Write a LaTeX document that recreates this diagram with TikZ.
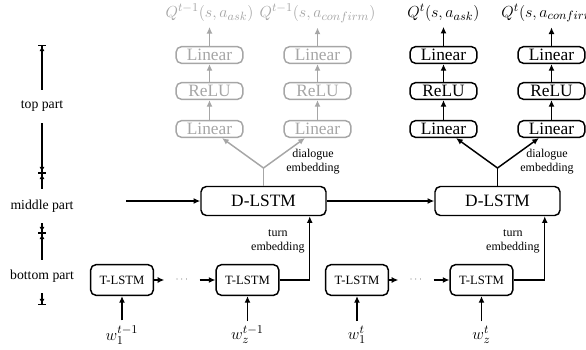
\documentclass[tikz,border=0pt]{standalone}
\usepackage{fontspec}
\setmainfont{Liberation Serif}
\usetikzlibrary{arrows.meta,positioning}

\begin{document}
\begin{tikzpicture}[x=0.75pt,y=-0.75pt,>={Latex[length=5pt,width=4.5pt]},
  line width=1.1pt,font=\fontsize{13}{15}\selectfont,
  lstm/.style={draw,rounded corners=4pt,minimum width=93.75pt,minimum height=21.75pt},
  tlstm/.style={draw,rounded corners=4pt,font=\fontsize{9.5}{11}\selectfont,minimum width=47pt,minimum height=23pt},
  layer/.style={draw,rounded corners=4pt,minimum width=50pt,minimum height=12.5pt,inner sep=1pt},
  old/.style={black!35},
  note/.style={font=\fontsize{9}{10.5}\selectfont,align=center},
  part/.style={font=\fontsize{10.3}{12}\selectfont,fill=white,minimum height=25pt,inner xsep=1pt},
  dotsbox/.style={font=\fontsize{6}{7}\selectfont,inner xsep=8pt},
  partline/.style={{Bar[width=6pt]Latex[length=3.5pt,width=4pt]}-{Latex[length=3.5pt,width=4pt]Bar[width=6pt]}}]
  \useasboundingbox (0,0) rectangle (586,350);

  % left side: parts of the model
  \coordinate (m0) at (42,45);
  \coordinate (m1) at (42,173);
  \coordinate (m2) at (42,233);
  \coordinate (m3) at (42,305);
  \draw[partline] (m0) -- (m1) node[part,pos=0.48] (p1) {top part};
  \draw[partline] (m1) -- (m2) node[part,pos=0.55] (p2) {middle part};
  \draw[partline] (m2) -- (m3) node[part,pos=0.6] (p3) {bottom part};

  % bottom part
  \node[tlstm] (tl1) at (122,280) {T-LSTM};
  \node[tlstm] (tl2) at (247.5,280) {T-LSTM};
  \node[tlstm] (tl3) at (357,280) {T-LSTM};
  \node[tlstm] (tl4) at (481.5,280) {T-LSTM};
  \node[dotsbox] (dots1) at (182,280) {$\cdots$};
  \node[dotsbox] (dots2) at (416,280) {$\cdots$};
  \draw[->] (tl1) -- (dots1);
  \draw[->] (dots1) -- (tl2);
  \draw[->] (tl3) -- (dots2);
  \draw[->] (dots2) -- (tl4);
  \node (w1) at (122,335) {$w_1^{t-1}$};
  \node (w2) at (247.5,335) {$w_z^{t-1}$};
  \node (w3) at (357,335) {$w_1^{t}$};
  \node (w4) at (481.5,335) {$w_z^{t}$};
  \draw[->] (w1) -- (tl1);
  \draw[->] (w2) -- (tl2);
  \draw[->] (w3) -- (tl3);
  \draw[->] (w4) -- (tl4);

  % middle part
  \node[lstm] (dl1) at (263.5,201) {D-LSTM};
  \node[lstm] (dl2) at (497.5,201) {D-LSTM};
  \coordinate (h0) at (126,201);
  \draw[->] (h0) -- (dl1);
  \draw[->] (dl1) -- (dl2);
  \draw[->] (tl2.east) -| ([xshift=-12.75pt]dl1.south east)
    node[note,pos=0.8,left] (t1) {turn\\embedding};
  \draw[->] (tl4.east) -| ([xshift=-12pt]dl2.south east)
    node[note,pos=0.8,left] (t2) {turn\\embedding};

  % top part, previous turn
  \node[layer,old] (a1) at (209.5,129) {Linear};
  \node[layer,old] (a2) at (209.5,91) {ReLU};
  \node[layer,old] (a3) at (209.5,55) {Linear};
  \node[old] (qa) at (209.5,13) {$Q^{t-1}(s,a_{ask})$};
  \node[layer,old] (b1) at (317.5,129) {Linear};
  \node[layer,old] (b2) at (317.5,91) {ReLU};
  \node[layer,old] (b3) at (317.5,55) {Linear};
  \node[old] (qb) at (317.5,13) {$Q^{t-1}(s,a_{confirm})$};
  \draw[->,old] (a1) -- (a2);
  \draw[->,old] (a2) -- (a3);
  \draw[->,old] (a3) -- (qa);
  \draw[->,old] (b1) -- (b2);
  \draw[->,old] (b2) -- (b3);
  \draw[->,old] (b3) -- (qb);
  \coordinate (s1) at (263.5,168);
  \draw[old] (dl1) -- (s1);
  \draw[->,old] (s1) -- (a1);
  \draw[->,old] (s1) -- (b1);
  \node[note] (e1) at (313,162) {dialogue\\embedding};

  % top part, current turn
  \node[layer] (c1) at (443.5,129) {Linear};
  \node[layer] (c2) at (443.5,91) {ReLU};
  \node[layer] (c3) at (443.5,55) {Linear};
  \node (qc) at (443.5,13) {$Q^{t}(s,a_{ask})$};
  \node[layer] (d1) at (551.5,129) {Linear};
  \node[layer] (d2) at (551.5,91) {ReLU};
  \node[layer] (d3) at (551.5,55) {Linear};
  \node (qd) at (551.5,13) {$Q^{t}(s,a_{confirm})$};
  \draw[->] (c1) -- (c2);
  \draw[->] (c2) -- (c3);
  \draw[->] (c3) -- (qc);
  \draw[->] (d1) -- (d2);
  \draw[->] (d2) -- (d3);
  \draw[->] (d3) -- (qd);
  \coordinate (s2) at (497.5,168);
  \draw (dl2) -- (s2);
  \draw[->] (s2) -- (c1);
  \draw[->] (s2) -- (d1);
  \node[note] (e2) at (547,162) {dialogue\\embedding};
\end{tikzpicture}
\end{document}
